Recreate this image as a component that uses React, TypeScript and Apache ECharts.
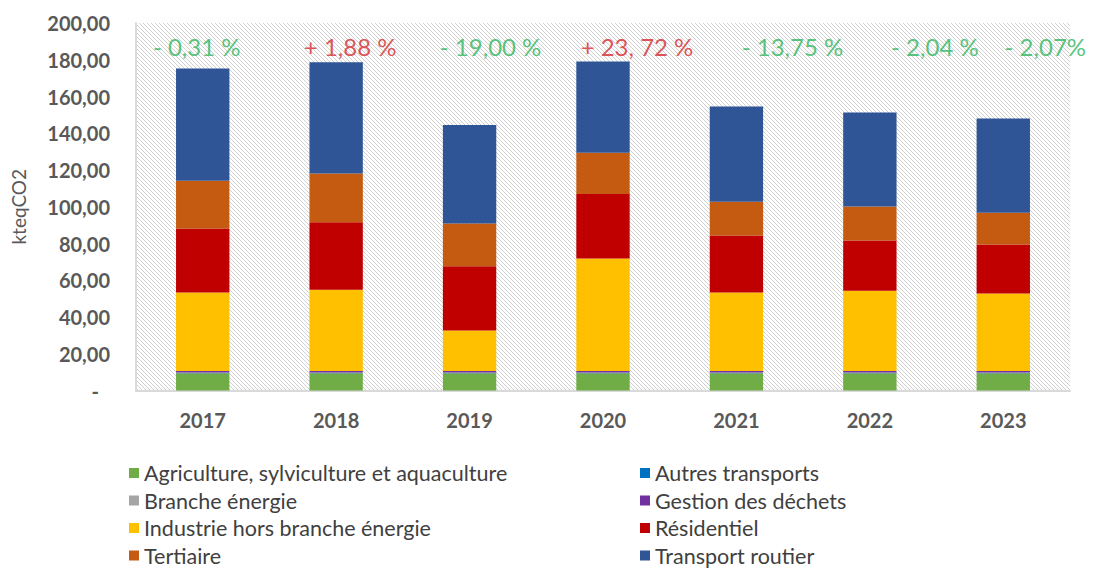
import React, { useEffect, useRef } from "react";
import * as echarts from "echarts";

const years = ["2017", "2018", "2019", "2020", "2021", "2022", "2023"];

const agriculture = [9.4, 9.4, 9.4, 9.4, 9.4, 9.4, 9.4];
const autresTransports = [0.1, 0.1, 0.1, 0.1, 0.1, 0.1, 0.1];
const brancheEnergie = [0.3, 0.3, 0.3, 0.3, 0.3, 0.3, 0.3];
const gestionDechets = [0.8, 0.8, 0.8, 0.8, 0.8, 0.8, 0.8];
const industrie = [42.8, 44.2, 22.0, 61.3, 42.8, 43.7, 42.2];
const residentiel = [34.7, 36.8, 35.0, 35.0, 30.9, 27.3, 26.6];
const tertiaire = [26.1, 26.5, 23.3, 22.5, 18.4, 18.5, 17.3];
const transportRoutier = [61.1, 60.5, 53.6, 49.7, 51.8, 51.2, 51.3];

const variationLabels = ["- 0,31 %", "+ 1,88 %", "- 19,00 %", "+ 23, 72 %", "- 13,75 %", "- 2,04 %", "- 2,07%"];
const variationUp = [false, true, false, true, false, false, false];
const variationLevel = 187.4;
const variationOffsetX = [-6, 14, 21, 34, 56, 65, 42];

const seriesDefs = [
  { name: "Agriculture, sylviculture et aquaculture", data: agriculture, color: "#70AD47" },
  { name: "Autres transports", data: autresTransports, color: "#0070C0" },
  { name: "Branche énergie", data: brancheEnergie, color: "#A5A5A5" },
  { name: "Gestion des déchets", data: gestionDechets, color: "#7030A0" },
  { name: "Industrie hors branche énergie", data: industrie, color: "#FFC000" },
  { name: "Résidentiel", data: residentiel, color: "#C00000" },
  { name: "Tertiaire", data: tertiaire, color: "#C55A11" },
  { name: "Transport routier", data: transportRoutier, color: "#2F5597" },
];

const FONT = "Lato, 'Open Sans', sans-serif";

const hatchSvg =
  "data:image/svg+xml;utf8," +
  encodeURIComponent(
    '<svg xmlns="http://www.w3.org/2000/svg" width="4" height="4"><rect width="4" height="4" fill="#ffffff"/><path d="M-1,-1 L5,5 M-1,3 L1,5 M3,-1 L5,1" stroke="#d0d0d0" stroke-width="1"/></svg>'
  );

export default function App() {
  const ref = useRef<HTMLDivElement>(null);

  useEffect(() => {
    if (!ref.current) return;
    const chart = echarts.init(ref.current, undefined, { renderer: "svg" });

    const barSeries = seriesDefs.map((s) => ({
      name: s.name,
      type: "bar",
      stack: "total",
      barWidth: "40%",
      data: s.data,
      itemStyle: { color: s.color },
      emphasis: { disabled: true },
    }));

    const legendText = { fontFamily: FONT, fontSize: 21.5, color: "#404040", lineHeight: 22 };

    const legendBase = {
      orient: "vertical",
      top: 457,
      height: 130,
      itemWidth: 10,
      itemHeight: 10,
      itemGap: 5.5,
      icon: "rect",
      textStyle: legendText,
    };

    chart.setOption({
      animation: false,
      grid: {
        left: 136,
        right: 24,
        top: 23,
        bottom: 178.5,
        show: true,
        borderWidth: 0,
        backgroundColor: {
          image: hatchSvg,
          repeat: "repeat",
          imageWidth: 4,
          imageHeight: 4,
        } as any,
      },
      legend: [
        {
          ...legendBase,
          left: 124,
          data: [seriesDefs[0].name, seriesDefs[2].name, seriesDefs[4].name, seriesDefs[6].name],
        },
        {
          ...legendBase,
          left: 635,
          data: [seriesDefs[1].name, seriesDefs[3].name, seriesDefs[5].name, seriesDefs[7].name],
        },
      ],
      xAxis: {
        type: "category",
        data: years,
        axisTick: { show: false },
        axisLine: { lineStyle: { color: "#d9d9d9", width: 2 } },
        axisLabel: {
          margin: 19,
          fontFamily: FONT,
          fontSize: 20,
          fontWeight: "bold",
          color: "#595959",
        },
      },
      yAxis: {
        type: "value",
        min: 0,
        max: 200,
        interval: 20,
        name: "kteqCO2",
        nameLocation: "middle",
        nameRotate: 90,
        nameGap: 108,
        nameTextStyle: { fontFamily: FONT, fontSize: 19, color: "#595959" },
        splitLine: { show: false },
        axisTick: { show: false },
        axisLine: { show: true, lineStyle: { color: "#d9d9d9", width: 2 } },
        axisLabel: {
          margin: 26,
          fontFamily: FONT,
          fontSize: 20,
          fontWeight: "bold",
          color: "#595959",
          formatter: (v: number) =>
            v === 0 ? "{z|-}" : v.toFixed(2).replace(".", ","),
          rich: {
            z: {
              fontFamily: FONT,
              fontSize: 20,
              fontWeight: "bold",
              color: "#595959",
              padding: [0, 11, 0, 0],
            },
          },
        },
      },
      series: [
        ...barSeries,
        {
          name: "variation",
          type: "scatter",
          symbolSize: 0,
          silent: true,
          z: 10,
          data: years.map((y, i) => ({
            value: [y, variationLevel],
            label: {
              show: true,
              position: "inside",
              offset: [variationOffsetX[i], 0],
              formatter: variationLabels[i],
              fontFamily: FONT,
              fontSize: 24,
              color: variationUp[i] ? "#D42A2F" : "#2DB55D",
            },
          })),
        },
      ],
    });

    return () => chart.dispose();
  }, []);

  return (
    <div
      ref={ref}
      style={{ position: "fixed", left: 0, top: 0, width: 1094, height: 569, background: "#ffffff" }}
    />
  );
}
